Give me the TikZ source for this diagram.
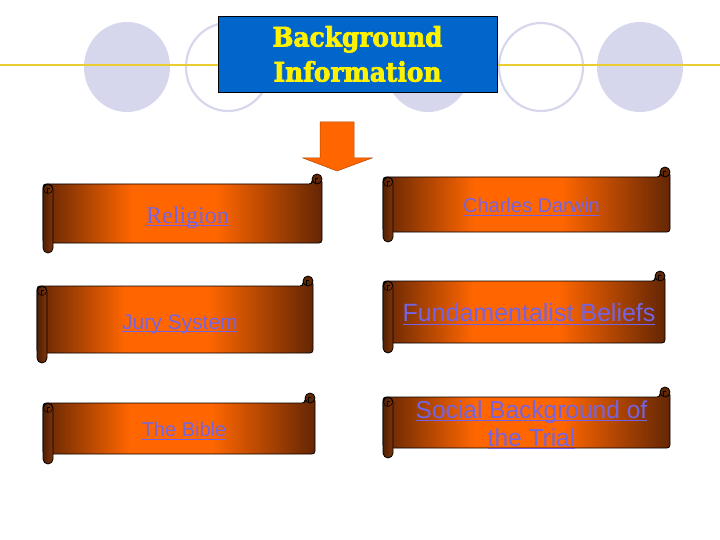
\documentclass[tikz,border=0pt]{standalone}
\usepackage{fontspec}
\setmainfont{Liberation Serif}
\newfontfamily\arialfont{Liberation Sans}
\newfontfamily\titlefont{DejaVu Serif}[FakeStretch=0.92, BoldFeatures={FakeBold=2.5}]
\usetikzlibrary{positioning}
\definecolor{discgray}{RGB}{214,214,236}
\definecolor{rulegold}{RGB}{235,205,50}
\definecolor{titleblue}{RGB}{0,102,204}
\definecolor{scrolldark}{RGB}{100,38,4}
\definecolor{scrollorange}{RGB}{255,102,0}
\definecolor{rollbrown}{RGB}{128,52,8}
\definecolor{linkblue}{RGB}{116,100,228}
\pgfdeclarehorizontalshading{scrollfade}{100bp}{color(0bp)=(scrolldark); color(25bp)=(scrolldark); color(41bp)=(scrollorange); color(56bp)=(scrollorange); color(75bp)=(scrolldark); color(100bp)=(scrolldark)}
\newsavebox{\linkbox}
\newcommand{\linkul}[1]{\sbox{\linkbox}{#1}\rlap{\rule[-3.2pt]{\wd\linkbox}{1.3pt}}\usebox{\linkbox}}
\tikzset{
  bg disc/.style={fill=discgray, draw=none},
  bg ring/.style={draw=discgray, line width=2.2pt},
  title box/.style={
    rectangle, draw=black, fill=titleblue,
    minimum width=279pt, minimum height=76pt,
    text=yellow, align=center, inner sep=0pt,
    font=\titlefont\bfseries\fontsize{27}{35}\selectfont
  },
  scroll body/.style={shade, shading=scrollfade, draw=black, line width=0.8pt, rounded corners=3pt},
  scroll roll/.style={left color=scrolldark!80!black, right color=rollbrown, draw=black, line width=0.8pt, rounded corners=5pt},
  scroll knob/.style={fill=rollbrown!75!black, draw=black, line width=0.8pt},
  scroll curl/.style={draw=black, line width=0.5pt},
  scroll text/.style={
    text=linkblue, align=center, inner sep=0pt, yshift=-2.5pt,
    font=\arialfont\fontsize{20}{28}\selectfont
  },
  down arrow/.style={fill=scrollorange, draw=scrollorange!70!black, line width=0.5pt}
}
% #1 text options, #2 name, #3 x1, #4 y1, #5 x2, #6 y2, #7 text
\newcommand{\scrollbanner}[7][]{%
  \path[scroll body] (#3,#4) -- (#5-10,#4) -- (#5-10,#4-5) -- (#5,#4-5) -- (#5,#6) -- (#3,#6) -- cycle;
  \path[scroll knob] (#5-5,#4-5) circle[radius=5];
  \path[scroll curl] (#5-7,#4-1) -- (#5-7,#4-6) -- (#5-4,#4-6);
  \path[scroll roll] (#3,#4) rectangle (#3+10,#6+10);
  \path[scroll curl] (#3+5,#4+5) circle[radius=4.5];
  \path[scroll curl] (#3+4,#4+9) -- (#3+4,#4+4) -- (#3+7,#4+4);
  \node[scroll text,#1] (#2) at ({(#3+10+#5)/2},{(#4+#6)/2}) {#7};
}

\begin{document}
\begin{tikzpicture}[x=1pt, y=-1pt]
  \useasboundingbox (0,0) rectangle (720,540);

  % circles behind the title
  \path[bg disc] (127,67) ellipse[x radius=43, y radius=45];
  \path[bg ring] (228,67) ellipse[x radius=42, y radius=44];
  \path[bg disc] (428,67) ellipse[x radius=43, y radius=45];
  \path[bg ring] (541,67) ellipse[x radius=42, y radius=44];
  \path[bg disc] (640,67) ellipse[x radius=43, y radius=45];
  \draw[rulegold, line width=2pt] (0,65) -- (720,65);

  \node[title box] (title) at (357.5,54) {Background\\Information};

  \path[down arrow] (320,122) -- (354,122) -- (354,158) -- (372,158) -- (337,171)
    -- (303,158) -- (320,158) -- cycle;

  \scrollbanner[font=\fontsize{24}{28}\selectfont, yshift=-1.5pt]{religion}{43}{184}{322}{243}{\linkul{Religion}}
  \scrollbanner{darwin}{383}{177}{670}{232}{\linkul{Charles Darwin}}
  \scrollbanner[font=\arialfont\fontsize{21}{28}\selectfont, yshift=-2pt]{jury}{37}{286}{313}{353}{\linkul{Jury System}}
  \scrollbanner[font=\arialfont\fontsize{25}{28}\selectfont]{beliefs}{383}{281}{665}{343}{\linkul{Fundamentalist Beliefs}}
  \scrollbanner{bible}{43}{403}{315}{454}{\linkul{The Bible}}
  \scrollbanner[font=\arialfont\fontsize{24.5}{28}\selectfont]{social}{383}{397}{670}{448}{\linkul{Social Background of}\\\linkul{the Trial}}
\end{tikzpicture}
\end{document}
